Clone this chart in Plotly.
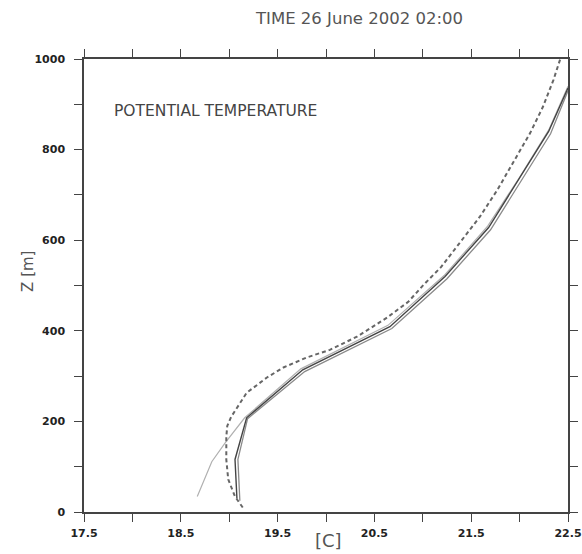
import plotly.graph_objects as go

# Dark solid profile
solid_x = [19.08, 19.06, 19.18, 19.76, 20.66, 21.23, 21.68, 22.00, 22.30, 22.50]
solid_z = [30, 116, 208, 314, 409, 520, 628, 736, 840, 936]

# Medium grey profile (nearly overlapping)
mid_x = [19.11, 19.09, 19.19, 19.78, 20.68, 21.25, 21.70, 22.02, 22.32, 22.50]
mid_z = [25, 116, 206, 310, 405, 515, 623, 731, 835, 930]

# Light grey profile (diverges near surface)
light_x = [18.67, 18.82, 18.96, 19.16, 19.74, 20.64, 21.22, 21.67, 22.00, 22.30, 22.50]
light_z = [34, 111, 153, 208, 316, 412, 522, 631, 739, 843, 940]

# Dashed profile
dash_x = [19.14, 19.06, 18.99, 18.97, 18.97, 18.98, 19.02, 19.11, 19.18, 19.39, 19.56,
          19.80, 20.04, 20.32, 20.63, 20.85, 21.01, 21.19, 21.38, 21.59, 21.77, 21.93,
          22.11, 22.24, 22.35, 22.42]
dash_z = [10, 34, 72, 116, 166, 190, 210, 240, 263, 297, 319, 341, 358, 387, 429, 464,
          502, 541, 594, 652, 711, 771, 837, 894, 954, 1000]

x_ticks = [17.5, 18.0, 18.5, 19.0, 19.5, 20.0, 20.5, 21.0, 21.5, 22.0, 22.5]
x_labels = ["17.5", "", "18.5", "", "19.5", "", "20.5", "", "21.5", "", "22.5"]
y_ticks = [0, 100, 200, 300, 400, 500, 600, 700, 800, 900, 1000]
y_labels = ["0", "", "200", "", "400", "", "600", "", "800", "", "1000"]

fig = go.Figure()
fig.add_trace(go.Scatter(x=light_x, y=light_z, mode="lines",
                         line=dict(color="#b0b0b0", width=1.2), showlegend=False))
fig.add_trace(go.Scatter(x=mid_x, y=mid_z, mode="lines",
                         line=dict(color="#8a8a8a", width=1.3), showlegend=False))
fig.add_trace(go.Scatter(x=solid_x, y=solid_z, mode="lines",
                         line=dict(color="#444444", width=1.4), showlegend=False))
fig.add_trace(go.Scatter(x=dash_x, y=dash_z, mode="lines",
                         line=dict(color="#666666", width=2, dash="4px,3px"), showlegend=False))

tickfont = dict(family="DejaVu Sans", size=11, color="#222222", weight="bold")
axis_common = dict(showgrid=False, zeroline=False, showline=True, linecolor="#444444",
                   linewidth=1.5, mirror="allticks", ticks="outside", ticklen=8,
                   tickwidth=1.3, tickcolor="#444444", tickfont=tickfont, automargin=False)

fig.update_xaxes(range=[17.5, 22.5], tickmode="array", tickvals=x_ticks, ticktext=x_labels,
                 ticklabelstandoff=2, **axis_common)
fig.update_yaxes(range=[0, 1000], tickmode="array", tickvals=y_ticks, ticktext=y_labels,
                 ticklabelstandoff=7, **axis_common)

fig.update_layout(
    width=582, height=554,
    margin=dict(l=84, r=14, t=59, b=42, autoexpand=False),
    plot_bgcolor="white", paper_bgcolor="white",
    annotations=[
        dict(text="TIME 26 June 2002 02:00", xref="paper", yref="paper", x=0.568, y=1.0,
             yshift=41, showarrow=False, xanchor="center", yanchor="middle",
             font=dict(family="DejaVu Sans", size=16.5, color="#555555")),
        dict(text="POTENTIAL TEMPERATURE", xref="paper", yref="paper", x=0.057, y=0.885,
             showarrow=False, xanchor="left", yanchor="middle",
             font=dict(family="DejaVu Sans", size=15.5, color="#444444")),
        dict(text="Z [m]", xref="paper", yref="paper", x=0, xshift=-56, y=0.53,
             textangle=-90, showarrow=False, xanchor="center", yanchor="middle",
             font=dict(family="DejaVu Sans", size=15, color="#555555")),
        dict(text="[C]", xref="paper", yref="paper", x=0.505, y=0, yshift=-28,
             showarrow=False, xanchor="center", yanchor="middle",
             font=dict(family="DejaVu Sans", size=18, color="#555555")),
    ],
)

fig.write_html("out.html", config={"displayModeBar": False},
               post_script="document.body.style.margin='0px';")
